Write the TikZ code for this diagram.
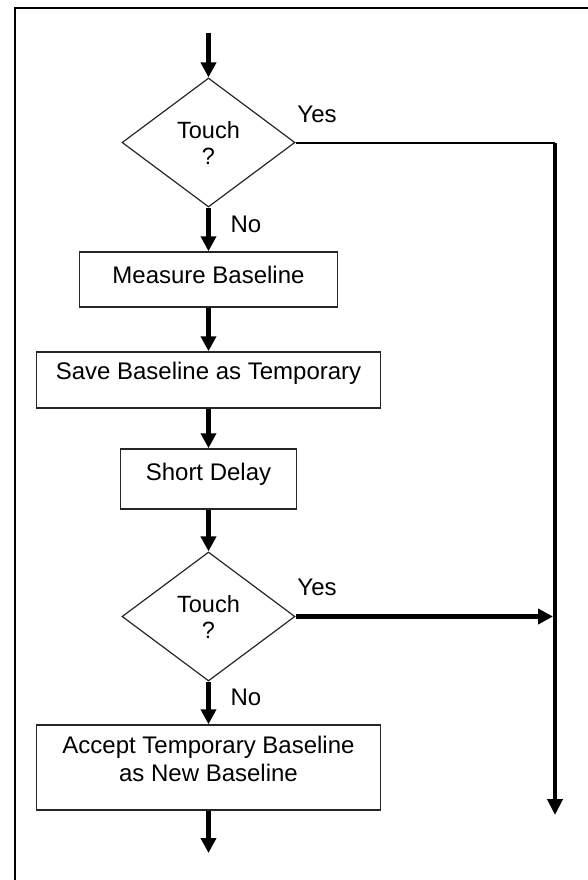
\documentclass[tikz,border=0pt]{standalone}
\usepackage{fontspec}
\setmainfont{Liberation Sans}
\usetikzlibrary{shapes.geometric,arrows.meta}
\begin{document}
\begin{tikzpicture}[x=1pt,y=-1pt,
  every node/.style={font=\fontsize{24}{28}\selectfont, text=black},
  procbox/.style={draw=black!85, line width=1.5pt, rectangle, inner sep=0pt, align=center},
  decision/.style={draw=black!85, line width=1.2pt, diamond, aspect=1.34, inner sep=0pt,
     minimum width=173pt, minimum height=129pt, align=center,
     font=\fontsize{23.5}{26}\selectfont},
  flow/.style={line width=5pt, -{Triangle[width=15pt,length=15pt]}},
  rightflow/.style={line width=4pt, -{Triangle[width=15pt,length=16pt]}},
  thinflow/.style={line width=2pt},
  lbl/.style={anchor=base}
]
\useasboundingbox (0,0) rectangle (587,880);
% frame (only top and left edges visible)
\draw[line width=2.2pt] (15,882) -- (15,8) -- (590,8);

\coordinate (start) at (208.5,33);
\node[decision] (d1) at (208.5,142.5) {Touch\\?};
\node[procbox, minimum width=258pt, minimum height=55pt, text height=17pt, text depth=10pt]
  (m1) at (208.5,279.5) {Measure Baseline};
\node[procbox, minimum width=344pt, minimum height=56pt, text height=17pt, text depth=19pt]
  (m2) at (208.5,380) {Save Baseline as Temporary};
\node[procbox, minimum width=176pt, minimum height=60pt, text height=17pt, text depth=15pt]
  (m3) at (208.5,479) {Short Delay};
\node[decision] (d2) at (208.5,616.5) {Touch\\?};
\node[procbox, minimum width=344pt, minimum height=85pt, text height=45pt, text depth=18pt]
  (m4) at (208.5,767.5) {Accept Temporary Baseline\\as New Baseline};
\coordinate (end) at (208.5,853);

\coordinate (c1) at (555,143);
\coordinate (c2) at (555,815);
\coordinate (j2) at (553,616.5);

\node[lbl] (y1) at (317,123) {Yes};
\node[lbl] (n1) at (246,232) {No};
\node[lbl] (y2) at (317,595) {Yes};
\node[lbl] (n2) at (246,705) {No};

\draw[flow] (start) -- (d1.north);
\draw[flow] (d1.south) -- (m1.north);
\draw[flow] (m1.south) -- (m2.north);
\draw[flow] (m2.south) -- (m3.north);
\draw[flow] (m3.south) -- (d2.north);
\draw[flow] (d2.south) -- (m4.north);
\draw[flow] (m4.south) -- (end);

\draw[thinflow] (d1.east) -- (d1.east -| c1);
\draw[rightflow] (c1) -- (c2);
\draw[flow] (d2.east) -- (j2);
\end{tikzpicture}
\end{document}
